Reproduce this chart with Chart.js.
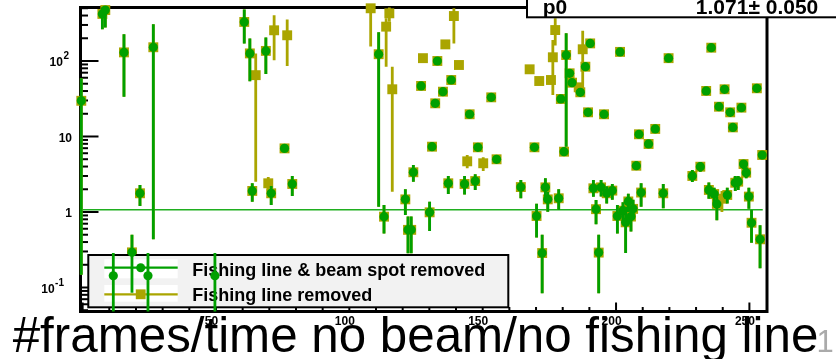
<!DOCTYPE html>
<html>
<head>
<meta charset="utf-8">
<script src="https://cdn.jsdelivr.net/npm/chart.js@4.4.1/dist/chart.umd.min.js"></script>
<style>
  html, body { margin: 0; padding: 0; background: #fff; }
  #wrap { width: 836px; height: 359px; position: relative; }
</style>
</head>
<body>
<div id="wrap"><canvas id="framesChart"></canvas></div>
<script>
// runs present in both selections (circle drawn over square)
const runs = [-0.5, 7.4, 8.5, 15.5, 18.5, 21.5, 26.5, 60.6, 62.7, 63.6, 68.7, 70.7, 75.7, 78.6,
  111, 113, 121, 122, 123.2, 124, 126.9, 130.1, 131, 132.2, 133, 135.1, 137.1, 138.2, 143.2,
  145.1, 147.2, 148.2, 153.2, 155.2, 164.3, 169.4, 170.2, 172.3, 173.5, 174.4, 178.5, 179.3,
  180.5, 181.3, 182.6, 183.5, 186.6, 188.5, 189.5, 190.3, 191.5, 192.5, 193.5, 194.4, 195.5,
  196.5, 198.6, 200.5, 201.5, 202.6, 203.6, 204.6, 205.6, 206.4, 207.6, 208.6, 209.4, 212.2,
  214.7, 217.7, 219.7, 228.6, 231.6, 233.8, 234.8, 235.7, 236.8, 237.8, 238.6, 240.7, 241.7,
  242.8, 243.8, 244.7, 245.8, 247, 247.8, 248.8, 249.8, 250.8, 252.8, 254, 254.8];
const ratio = [29.7, 420, 473, 130, 0.292, 1.77, 152, 329, 126, 1.90, 136, 1.77, 6.96, 2.35,
  123, 0.867, 1.47, 0.58, 0.58, 3.36, 46.7, 0.99, 7.33, 27.5, 100, 39.2, 2.40, 56, 2.35,
  19.7, 2.57, 7.19, 33.0, 4.99, 2.14, 7.19, 0.885, 0.286, 2.12, 1.47, 1.52, 31.4,
  6.29, 120, 68.7, 51.6, 38.5, 84, 20.9, 171, 2.06, 1.09, 0.29, 2.12, 19.7,
  1.77, 1.92, 0.885, 132, 1.04, 0.73, 1.38, 0.87, 1.1, 4.1, 10.7, 1.81, 7.96,
  12.6, 1.77, 109, 3.0, 3.98, 40.1, 1.96, 150, 1.73, 1.28, 24.8, 42.2, 1.68,
  20.9, 13.2, 2.44, 2.52, 24.1, 4.32, 3.32, 1.6, 0.72, 43.5, 0.435, 5.69];
const ratioLow = [0.147, 263, 277, 33.7, 0.085, 1.2, 0.435, 170, 54, 1.37, 67, 1.24, 6.3, 1.63,
  1.17, 0.52, 0.91, 0.284, 0.284, 2.52, 43, 0.56, 6.8, 25, 94, 36, 1.73, 52, 1.7,
  18.5, 1.96, 6.6, 31, 4.5, 1.52, 6.7, 0.46, 0.084, 1.59, 1.01, 1.06, 29,
  5.8, 7.3, 64, 48, 36, 79, 19.6, 162, 1.59, 0.69, 0.084, 1.6, 18.5,
  1.3, 1.45, 0.52, 125, 0.75, 0.286, 1.0, 0.55, 0.8, 3.6, 10.0, 1.17, 7.4,
  11.8, 1.12, 103, 2.5, 3.4, 37.5, 1.5, 142, 1.3, 0.78, 23.2, 39.5, 1.3,
  19.6, 12.3, 1.9, 1.95, 22.6, 3.7, 2.8, 1.1, 0.39, 40.7, 0.18, 5.0];
const ratioHigh = [59, 560, 650, 226, 0.50, 2.28, 306, 480, 199, 2.4, 204, 2.21, 7.6, 3.0,
  240, 1.24, 2.0, 0.87, 0.87, 4.19, 50, 1.37, 7.9, 30, 106, 42, 3.0, 60, 3.0,
  21, 3.15, 7.8, 35, 5.5, 2.65, 7.7, 1.29, 0.50, 2.79, 1.86, 2.0, 34,
  6.8, 233, 73, 55, 41, 89, 22.2, 180, 2.65, 1.44, 0.50, 2.65, 21,
  2.2, 2.35, 1.24, 139, 1.35, 1.17, 1.75, 1.2, 1.45, 4.7, 11.4, 2.4, 8.5,
  13.4, 2.35, 115, 3.6, 4.6, 42.7, 2.45, 158, 2.1, 1.59, 26.4, 45, 2.1,
  22.2, 14.1, 3.0, 3.0, 25.6, 4.9, 3.9, 2.1, 1.06, 46.3, 0.67, 6.4];

// runs only in "Fishing line removed"
const lineRuns = [64.9, 69.6, 71.8, 76.7, 108, 113.8, 115, 116.1, 127.6, 136, 139.2, 141.1,
  144.2, 150.2, 167.6, 171.2, 175.6, 176.3, 177.2, 186, 187.5, 239.7];
const lineRatio = [64.9, 2.40, 255, 219, 499, 285, 428, 42.2, 109, 166, 394, 88.5,
  4.69, 4.42, 77.6, 54.3, 56, 112, 257, 44.8, 143, 1.5];
const lineLow = [2.52, 1.9, 102, 86, 155, 84, 330, 1.86, 102, 156, 171, 83,
  3.8, 3.5, 73, 51, 52.6, 35.5, 160, 42, 41.3, 1.0];
const lineHigh = [126, 2.9, 403, 354, 800, 367, 560, 84, 116, 176, 499, 94,
  5.7, 5.3, 82, 57.6, 59.4, 190, 368, 47.6, 252, 1.9];

// runs only in "Fishing line & beam spot removed"
const spotRuns = [11.5, 24.5, 49.6];
const spotRatio = [0.143, 0.143, 0.143];
const spotLow = [0.001, 0.001, 0.001];
const spotHigh = [0.286, 0.286, 0.286];

// constant fit
const fitP0 = 1.071;
const fitP0Err = 0.050;
const fitRange = [0, 255];

const xTickLabels = [50, 100, 150, 200, 250];
const yTickLabels = [[0.1, '10', '-1'], [1, '1', ''], [10, '10', ''], [100, '10', '2']];

const GREEN = '#00a000';
const OLIVE = '#aaa500';
const FONT = '"Liberation Sans", Arial, Helvetica, sans-serif';

function toPoints(xs, ys, lo, hi) {
  return xs.map((x, i) => ({ x: x, y: ys[i], lo: lo[i], hi: hi[i] }));
}
const shared = toPoints(runs, ratio, ratioLow, ratioHigh);
const spotData = shared.concat(toPoints(spotRuns, spotRatio, spotLow, spotHigh));
const lineData = shared.concat(toPoints(lineRuns, lineRatio, lineLow, lineHigh));

function seg(ctx, x1, y1, x2, y2) {
  ctx.beginPath();
  ctx.moveTo(x1, y1);
  ctx.lineTo(x2, y2);
  ctx.stroke();
}

function drawErrorBars(chart, index) {
  const ctx = chart.ctx;
  const a = chart.chartArea;
  const yScale = chart.scales.y;
  const ds = chart.data.datasets[index];
  const meta = chart.getDatasetMeta(index);
  ctx.save();
  ctx.beginPath();
  ctx.rect(0, a.top, chart.width, a.bottom - a.top);
  ctx.clip();
  ctx.strokeStyle = ds.backgroundColor;
  ctx.lineWidth = 2.8;
  meta.data.forEach((pt, i) => {
    const d = ds.data[i];
    seg(ctx, pt.x, yScale.getPixelForValue(Math.max(d.lo, 1e-4)), pt.x, yScale.getPixelForValue(d.hi));
  });
  ctx.restore();
}

function drawLegend(ctx) {
  ctx.save();
  ctx.fillStyle = '#f2f2f2';
  ctx.fillRect(88.3, 255, 420, 52.3);
  ctx.strokeStyle = '#000';
  ctx.lineWidth = 2;
  ctx.strokeRect(88.3, 255, 420, 52.3);
  ctx.fillStyle = '#fff';
  ctx.fillRect(104.3, 259.3, 73.4, 19);
  ctx.fillRect(104.3, 285, 73.4, 16.7);

  ctx.lineWidth = 2.2;
  ctx.strokeStyle = GREEN;
  seg(ctx, 104.3, 267.7, 177.7, 267.7);
  ctx.fillStyle = GREEN;
  ctx.beginPath();
  ctx.arc(140.7, 267.7, 4.5, 0, Math.PI * 2);
  ctx.fill();

  ctx.strokeStyle = OLIVE;
  seg(ctx, 104.3, 294.3, 177.7, 294.3);
  ctx.fillStyle = OLIVE;
  ctx.fillRect(135.8, 289.4, 9.8, 9.8);

  ctx.fillStyle = '#000';
  ctx.font = 'bold 18px ' + FONT;
  ctx.textAlign = 'left';
  ctx.textBaseline = 'alphabetic';
  ctx.fillText('Fishing line & beam spot removed', 192.3, 275.5);
  ctx.fillText('Fishing line removed', 192.3, 301);
  ctx.restore();
}

const rootStyle = {
  id: 'rootStyle',
  beforeDatasetsDraw(chart) {
    const { ctx, chartArea: a, scales: { x, y } } = chart;
    ctx.save();
    // frame
    ctx.strokeStyle = '#000';
    ctx.lineWidth = 3;
    ctx.strokeRect(a.left, a.top, a.right - a.left, a.bottom - a.top);
    // x ticks, every 10 with majors every 50
    ctx.lineWidth = 2;
    for (let v = 0; v <= 250; v += 10) {
      const px = x.getPixelForValue(v);
      seg(ctx, px, a.bottom, px, a.bottom - (v % 50 === 0 ? 9 : 4.5));
    }
    // log y ticks
    for (let e = -2; e <= 2; e++) {
      for (let m = 1; m <= 9; m++) {
        const v = m * Math.pow(10, e);
        if (v < y.min || v > y.max) continue;
        const py = y.getPixelForValue(v);
        seg(ctx, a.left, py, a.left + (m === 1 ? 18 : 7.5), py);
      }
    }
    // fit line
    ctx.strokeStyle = '#1fae1f';
    ctx.lineWidth = 1.6;
    const fy = y.getPixelForValue(fitP0);
    seg(ctx, x.getPixelForValue(fitRange[0]), fy, x.getPixelForValue(fitRange[1]), fy);
    ctx.restore();
  },
  beforeDatasetDraw(chart, args) {
    if (args.index === 0) drawLegend(chart.ctx);
    drawErrorBars(chart, args.index);
  },
  afterDraw(chart) {
    const { ctx, chartArea: a, scales: { x, y } } = chart;
    ctx.save();
    ctx.fillStyle = '#000';

    // axis title
    ctx.font = '49.3px ' + FONT;
    ctx.textAlign = 'left';
    ctx.textBaseline = 'alphabetic';
    ctx.fillText('#frames/time no beam/no fishing line', 12.7, 352);
    ctx.fillStyle = '#aaa';
    ctx.font = '31px ' + FONT;
    ctx.fillText('1', 816.6, 352);

    // x tick labels
    ctx.fillStyle = '#000';
    ctx.font = 'bold 12px ' + FONT;
    ctx.textAlign = 'center';
    xTickLabels.forEach(v => ctx.fillText(String(v), x.getPixelForValue(v) - 4.5, 324.5));

    // y tick labels with exponents
    yTickLabels.forEach(([v, base, exp]) => {
      const py = y.getPixelForValue(v) + 5.3;
      ctx.font = 'bold 12px ' + FONT;
      if (!exp) {
        ctx.textAlign = 'right';
        ctx.fillText(base, 72, py);
        return;
      }
      ctx.font = 'bold 10px ' + FONT;
      const ew = ctx.measureText(exp).width;
      const right = exp === '2' ? 69 : 64;
      ctx.textAlign = 'left';
      ctx.fillText(exp, right - ew, py - 7);
      ctx.font = 'bold 12px ' + FONT;
      ctx.textAlign = 'right';
      ctx.fillText(base, right - ew - 0.5, py);
    });

    // fit statistics box
    ctx.fillStyle = '#fff';
    ctx.fillRect(527, -4, 320, 21.3);
    ctx.strokeStyle = '#000';
    ctx.lineWidth = 2;
    ctx.strokeRect(527, -4, 320, 21.3);
    ctx.fillStyle = '#000';
    ctx.font = 'bold 21px ' + FONT;
    ctx.textAlign = 'left';
    ctx.fillText('p0', 542.7, 13.8);
    ctx.textAlign = 'right';
    ctx.fillText(fitP0.toFixed(3) + '\u00b1 ' + fitP0Err.toFixed(3), 818.3, 13.8);
    ctx.restore();
  }
};

new Chart(document.getElementById('framesChart').getContext('2d'), {
  type: 'scatter',
  data: {
    datasets: [
      {
        label: 'Fishing line & beam spot removed',
        data: spotData,
        backgroundColor: GREEN,
        borderWidth: 0,
        pointStyle: 'circle',
        pointRadius: 4.6,
        clip: false
      },
      {
        label: 'Fishing line removed',
        data: lineData,
        backgroundColor: OLIVE,
        borderWidth: 0,
        pointStyle: 'rect',
        pointRadius: 7,
        clip: false
      }
    ]
  },
  options: {
    responsive: true,
    maintainAspectRatio: false,
    animation: false,
    events: [],
    layout: { padding: { left: 80.5, right: 69, top: 7.5, bottom: 47.5 } },
    scales: {
      x: { type: 'linear', min: -0.8, max: 256.6, bounds: 'data', display: false },
      y: { type: 'logarithmic', min: 0.0481, max: 511, bounds: 'data', display: false }
    },
    plugins: {
      legend: { display: false },
      tooltip: { enabled: false }
    }
  },
  plugins: [rootStyle]
});
</script>
</body>
</html>
